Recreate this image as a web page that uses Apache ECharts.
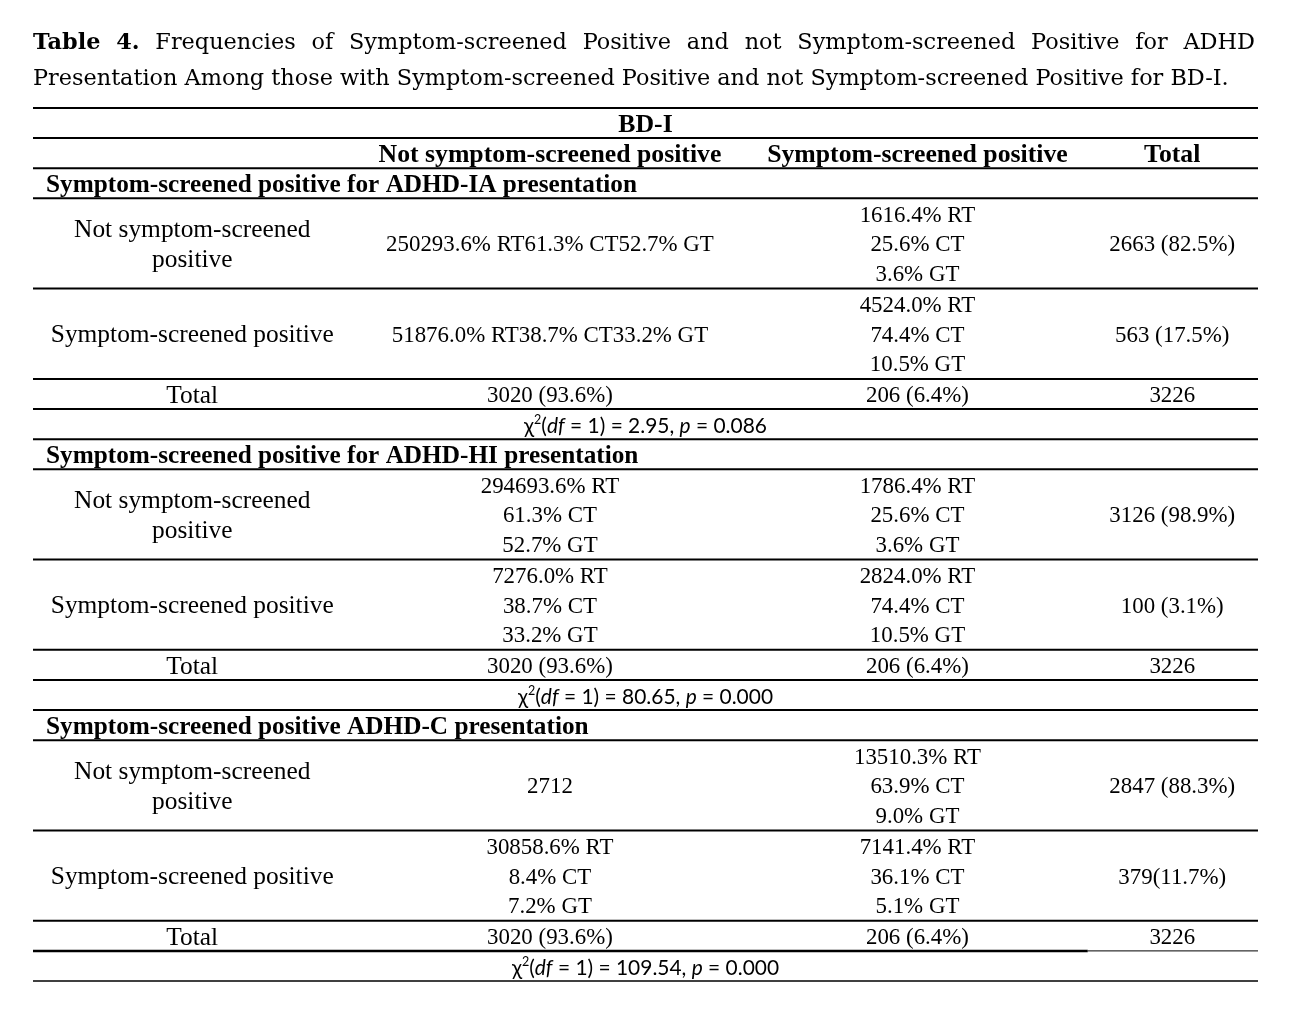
<!DOCTYPE html>
<html>
<head>
<meta charset="utf-8">
<script src="https://cdn.jsdelivr.net/npm/echarts@6/dist/echarts.min.js"></script>
<style>
	html, body { margin: 0; padding: 0; background: #fff; }
	#main { width: 1291px; height: 1024px; }
</style>
</head>
<body>
<div id="main"></div>
<script>
//表格文字数据
const titleLine1 = ['Table', '4.', 'Frequencies', 'of', 'Symptom-screened', 'Positive', 'and', 'not', 'Symptom-screened', 'Positive', 'for', 'ADHD'];
const titleLine2 = 'Presentation Among those with Symptom-screened Positive and not Symptom-screened Positive for BD-I.';
const groupHeader = 'BD-I';
const colHeaders = ['Not symptom-screened positive', 'Symptom-screened positive', 'Total'];
const sections = [
	'Symptom-screened positive for ADHD-IA presentation',
	'Symptom-screened positive for ADHD-HI presentation',
	'Symptom-screened positive ADHD-C presentation'
];
const rowLabels = [['Not symptom-screened', 'positive'], ['Symptom-screened positive']];
const totalLabel = 'Total';
const notPosCells = [
	[['250293.6% RT61.3% CT52.7% GT'], ['51876.0% RT38.7% CT33.2% GT']],
	[['294693.6% RT', '61.3% CT', '52.7% GT'], ['7276.0% RT', '38.7% CT', '33.2% GT']],
	[['2712'], ['30858.6% RT', '8.4% CT', '7.2% GT']]
];
const posCells = [
	[['1616.4% RT', '25.6% CT', '3.6% GT'], ['4524.0% RT', '74.4% CT', '10.5% GT']],
	[['1786.4% RT', '25.6% CT', '3.6% GT'], ['2824.0% RT', '74.4% CT', '10.5% GT']],
	[['13510.3% RT', '63.9% CT', '9.0% GT'], ['7141.4% RT', '36.1% CT', '5.1% GT']]
];
const rowTotals = [['2663 (82.5%)', '563 (17.5%)'], ['3126 (98.9%)', '100 (3.1%)'], ['2847 (88.3%)', '379(11.7%)']];
const colTotals = ['3020 (93.6%)', '206 (6.4%)', '3226'];
const chiValues = ['2.95', '80.65', '109.54'];
const pValues = ['0.086', '0.000', '0.000'];

//版式常量
const colX = [13.0, 42.2, 72.2, 93.0];		//列中心(百分比)
const sectionX = 1.06;
const lineStep = 0.975;
const textShift = 2;		//文字整体下移像素
const serif = 'Liberation Serif';
const titleFont = 'DejaVu Serif';
const sans = 'Lato';

var ctx = document.createElement('canvas').getContext('2d');
function measure (str, family, weight, size) {
	ctx.font = (weight || 'normal') + ' ' + size + 'px "' + family + '"';
	return ctx.measureText(str).width;
}
function fit (str, family, weight, target) {
	return 100 * target / measure(str, family, weight, 100);
}

var sizeTitle = fit(titleLine2, titleFont, 'normal', 1197);
var sizeHead = fit(colHeaders[0], serif, 'bold', 343);
var sizeSection = fit(sections[0], serif, 'bold', 591);
var sizeLabel = fit(rowLabels[1][0], serif, 'normal', 283);
var sizeNum = fit(notPosCells[0][0][0], serif, 'normal', 328);
var sizeChi = fit('χ2(df = 1) = 80.65, p = 0.000', sans, 'normal', 262);

//组装单元格
var cells = [];
cells.push({ x: 50, y: 0.5, lines: [groupHeader], kind: 'head' });
colHeaders.forEach(function (h, i) {
	cells.push({ x: colX[i + 1], y: 1.5, lines: [h], kind: 'head' });
});
var rules = [];
rules.push([0, 0, 100, 2]);
rules.push([0, 1, 100, 2]);
rules.push([0, 2, 100, 2]);
for (var s = 0; s < sections.length; s++) {
	var b = 2 + 9 * s;
	cells.push({ x: sectionX, y: b + 0.5, lines: [sections[s]], kind: 'section', align: 'left' });
	for (var r = 0; r < 2; r++) {
		var yc = b + 2.5 + 3 * r;
		cells.push({ x: colX[0], y: yc, lines: rowLabels[r], kind: 'label' });
		cells.push({ x: colX[1], y: yc, lines: notPosCells[s][r], kind: 'num' });
		cells.push({ x: colX[2], y: yc, lines: posCells[s][r], kind: 'num' });
		cells.push({ x: colX[3], y: yc, lines: [rowTotals[s][r]], kind: 'num' });
	}
	cells.push({ x: colX[0], y: b + 7.5, lines: [totalLabel], kind: 'label' });
	colTotals.forEach(function (t, i) {
		cells.push({ x: colX[i + 1], y: b + 7.5, lines: [t], kind: 'num' });
	});
	cells.push({ x: 50, y: b + 8.5, kind: 'chi', chi: chiValues[s], p: pValues[s] });

	rules.push([0, b + 1, 100, 2]);
	rules.push([0, b + 4, 100, 2]);
	rules.push([0, b + 7, 100, 2]);
	if (s == sections.length - 1) {
		rules.push([0, b + 8, 86.1, 2.5]);
		rules.push([86.1, b + 8, 100, 1]);
		rules.push([0, b + 9, 100, 1.3]);
	} else {
		rules.push([0, b + 8, 100, 2]);
		rules.push([0, b + 9, 100, 2]);
	}
}

function cellFont (kind) {
	if (kind == 'head') return { fontFamily: serif, fontWeight: 'bold', fontSize: sizeHead };
	if (kind == 'section') return { fontFamily: serif, fontWeight: 'bold', fontSize: sizeSection };
	if (kind == 'label') return { fontFamily: serif, fontWeight: 'normal', fontSize: sizeLabel };
	return { fontFamily: serif, fontWeight: 'normal', fontSize: sizeNum };
}

function renderCell (params, api) {
	var c = cells[params.dataIndex];
	var p0 = api.coord([api.value(0), api.value(1)]);
	var unit = api.size([0, 1])[1];
	if (c.kind == 'chi') {
		var base = { fontFamily: sans, fontSize: sizeChi, lineHeight: sizeChi * 1.2, fill: '#000' };
		return {
			type: 'text',
			style: {
				x: p0[0], y: p0[1] + textShift,
				text: '{n|χ}{sup|2}{n|(}{i|df}{n| = 1) = ' + c.chi + ', }{i|p}{n| = ' + c.p + '}',
				align: 'center', verticalAlign: 'middle',
				rich: {
					n: base,
					i: Object.assign({}, base, { fontStyle: 'italic' }),
					sup: { fontFamily: sans, fontSize: sizeChi * 0.6, lineHeight: sizeChi * 1.2, verticalAlign: 'top', fill: '#000' }
				}
			}
		};
	}
	var f = cellFont(c.kind);
	var n = c.lines.length;
	var children = c.lines.map(function (t, i) {
		return {
			type: 'text',
			style: {
				x: p0[0],
				y: p0[1] + textShift + (i - (n - 1) / 2) * lineStep * unit,
				text: t,
				align: c.align || 'center',
				verticalAlign: 'middle',
				fontFamily: f.fontFamily,
				fontWeight: f.fontWeight,
				fontSize: f.fontSize,
				fill: '#000'
			}
		};
	});
	return { type: 'group', children: children };
}

function renderRule (params, api) {
	var a = api.coord([api.value(0), api.value(1)]);
	var e = api.coord([api.value(2), api.value(1)]);
	return {
		type: 'line',
		shape: { x1: a[0], y1: a[1], x2: e[0], y2: e[1] },
		style: { stroke: '#000', lineWidth: api.value(3) }
	};
}

//标题两端对齐
var titleGraphics = [];
var wordsW = 0;
var titleWords = titleLine1.map(function (w, i) {
	var weight = i < 2 ? 'bold' : 'normal';
	var wd = measure(w, titleFont, weight, sizeTitle);
	wordsW += wd;
	return { w: w, weight: weight, wd: wd };
});
var gap = (1255 - 33 - wordsW) / (titleWords.length - 1);
var tx = 33;
titleWords.forEach(function (o) {
	titleGraphics.push({
		type: 'text', left: tx, top: 46 - sizeTitle * 0.6,
		style: { text: o.w, fontFamily: titleFont, fontWeight: o.weight, fontSize: sizeTitle, fill: '#000' }
	});
	tx += o.wd + gap;
});
titleGraphics.push({
	type: 'text', left: 33, top: 82 - sizeTitle * 0.6,
	style: { text: titleLine2, fontFamily: titleFont, fontSize: sizeTitle, fill: '#000' }
});

var myChart = echarts.init(document.getElementById('main'), null, { renderer: 'canvas' });
var option = {
	backgroundColor: '#fff',
	animation: false,
	graphic: titleGraphics,
	grid: { left: 33, right: 33, top: 108, bottom: 43 },
	xAxis: { type: 'value', min: 0, max: 100, show: false },
	yAxis: { type: 'value', min: 0, max: 29, inverse: true, show: false },
	series: [{
		type: 'custom',
		silent: true,
		clip: false,
		renderItem: renderRule,
		data: rules
	}, {
		type: 'custom',
		silent: true,
		clip: false,
		renderItem: renderCell,
		data: cells.map(function (c) { return [c.x, c.y]; })
	}]
};
myChart.setOption(option);
</script>
</body>
</html>
